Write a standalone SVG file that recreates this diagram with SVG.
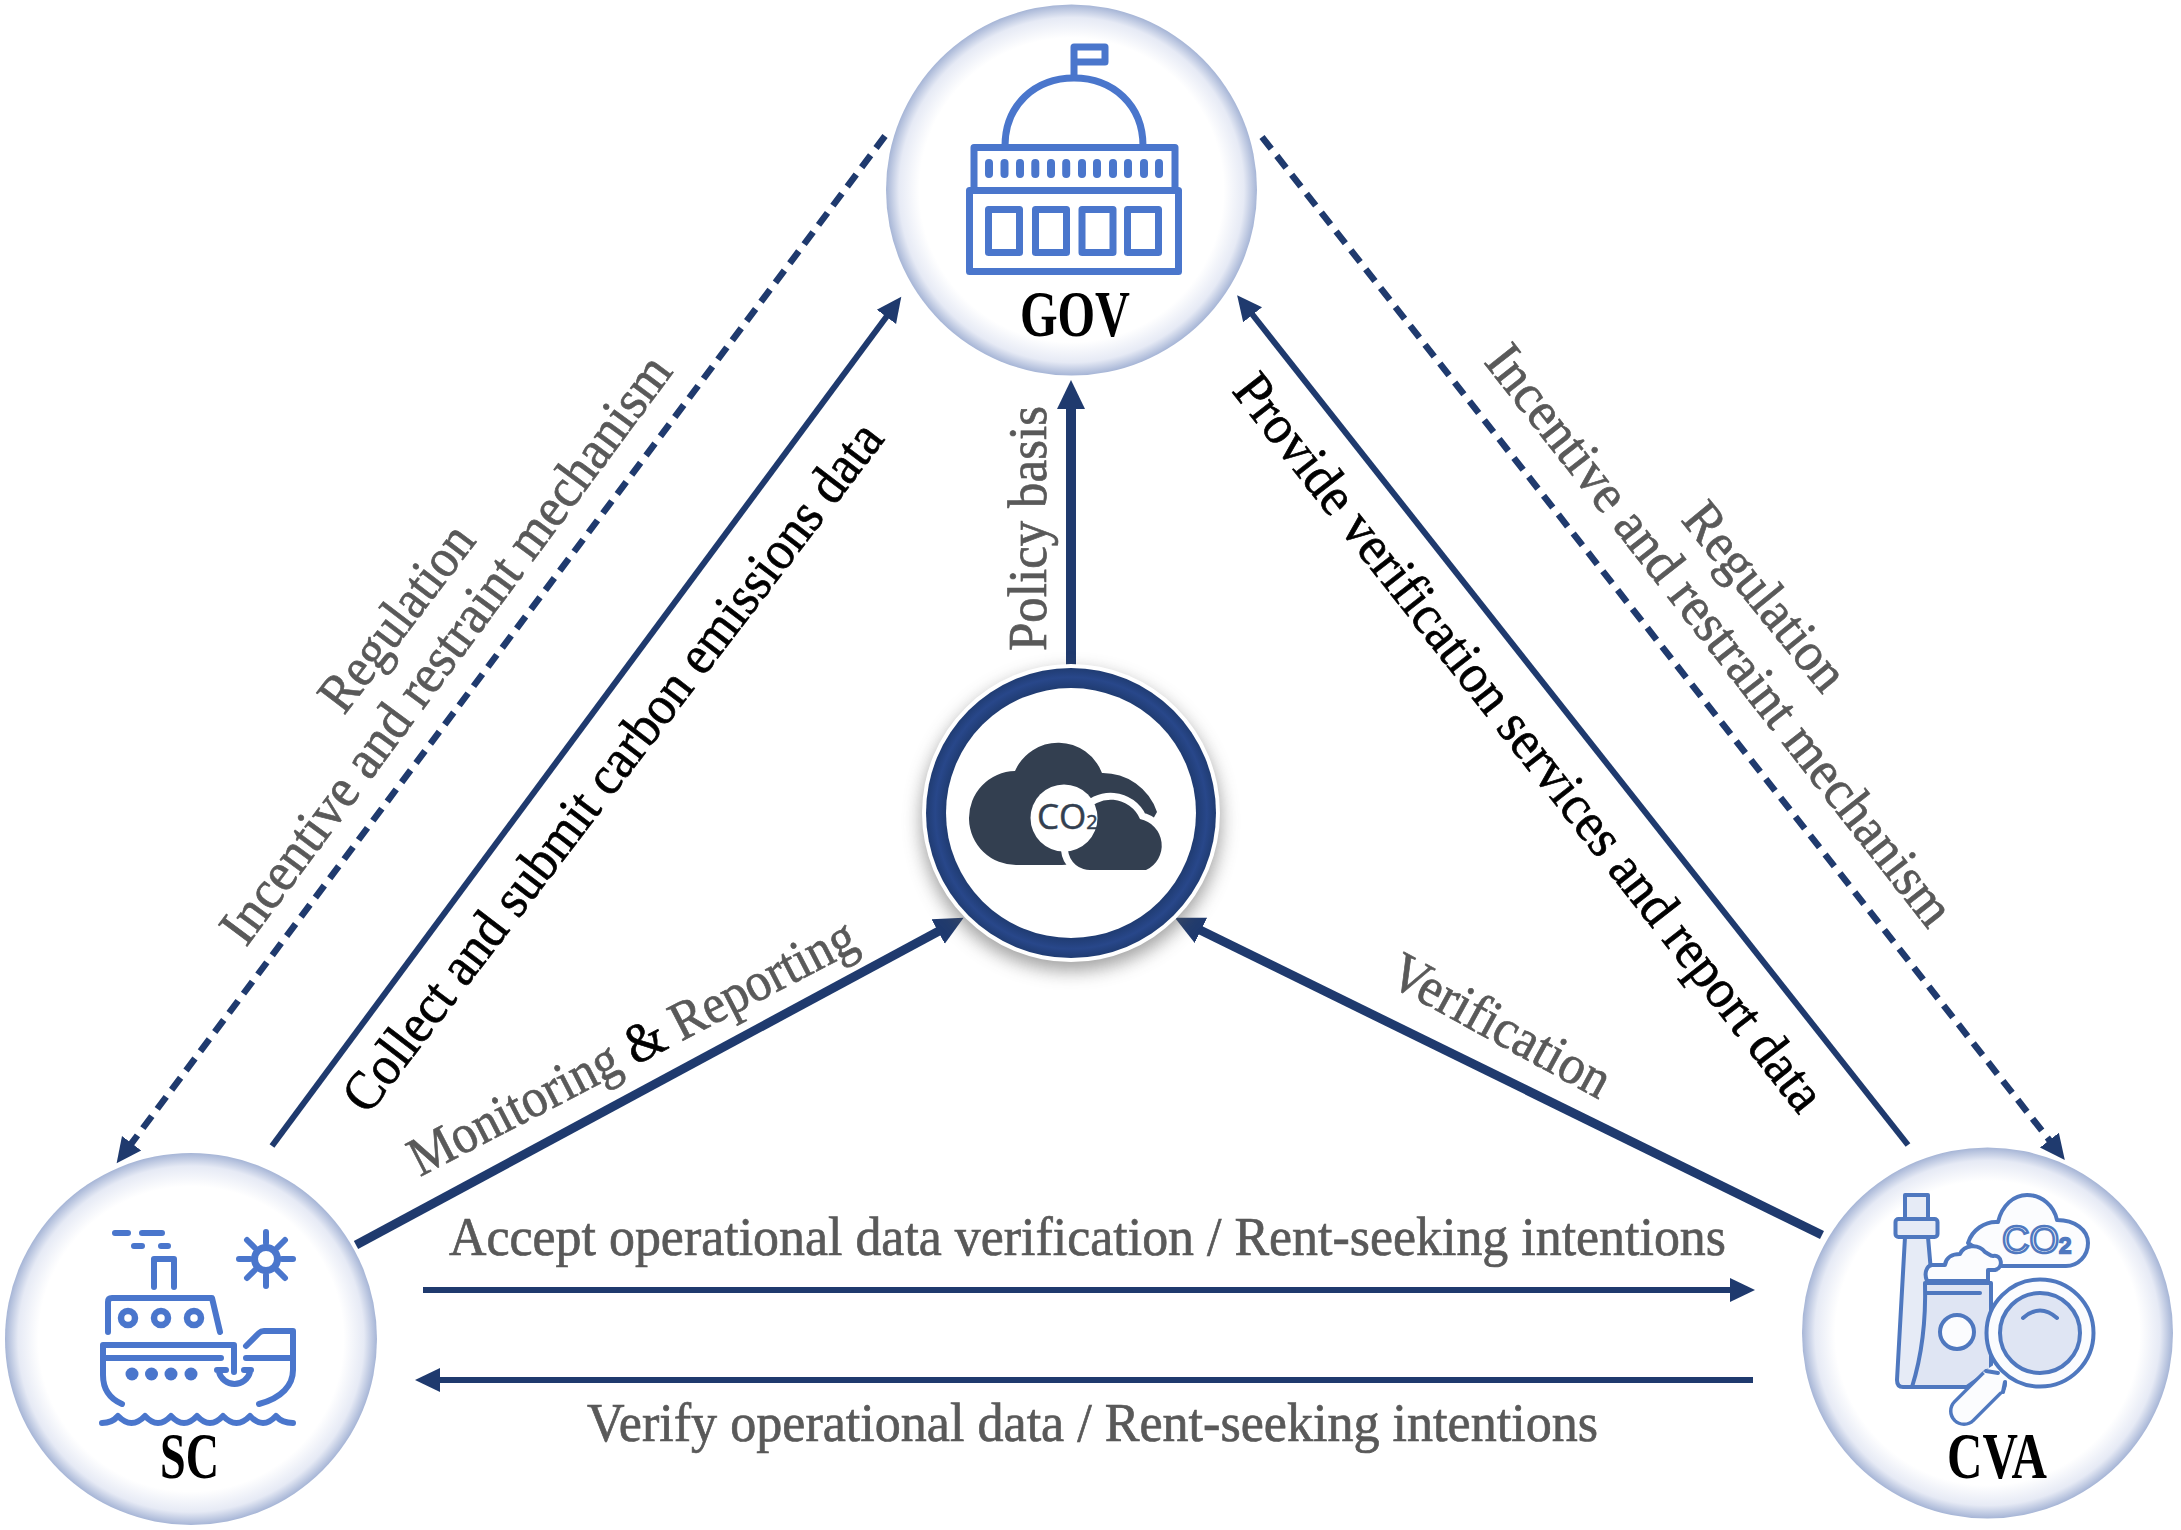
<svg xmlns="http://www.w3.org/2000/svg" width="2181" height="1530" viewBox="0 0 2181 1530">
<style>
text{font-family:"Liberation Serif","DejaVu Serif",serif}
.g{fill:#595959;font-size:55px;stroke:#595959;stroke-width:.7}
.k{fill:#000;font-size:55px;stroke:#000;stroke-width:.7}
.n{fill:#000;font-size:65px;font-weight:bold}
.c{fill:none;stroke:#1f3a6e;stroke-width:6}
.d{stroke-width:6.500;stroke-dasharray:15 9}
.t{stroke-width:10}
.i{fill:none;stroke:#4a76cc;stroke-width:7;stroke-linecap:round;stroke-linejoin:round}
.v{fill:#e6ebf6;stroke:#4f78bf;stroke-width:4;stroke-linejoin:round;stroke-linecap:round}
.w{fill:#fbfcfe}
.b{fill:#dfe5f3}
</style>
<defs>
<radialGradient id="bub"><stop offset="0.82" stop-color="#fff"/><stop offset="0.93" stop-color="#e6eaf5"/><stop offset="1" stop-color="#a6b5d6"/></radialGradient>
<radialGradient id="ring" gradientUnits="userSpaceOnUse" cx="1071" cy="813" r="146"><stop offset="0.85" stop-color="#1f3b70"/><stop offset="0.93" stop-color="#28478a"/><stop offset="1" stop-color="#1f3b70"/></radialGradient>
<filter id="soft" x="-30%" y="-30%" width="160%" height="160%"><feGaussianBlur stdDeviation="9"/></filter>
<marker id="h" markerUnits="userSpaceOnUse" markerWidth="26" markerHeight="26" refX="1" refY="13" orient="auto"><path d="M0,1 L25,13 L0,25 Z" fill="#1f3a6e"/></marker>
<marker id="H" markerUnits="userSpaceOnUse" markerWidth="30" markerHeight="30" refX="1" refY="15" orient="auto"><path d="M0,1 L29,15 L0,29 Z" fill="#1f3a6e"/></marker>
</defs>

<g id="connectors">
<path class="c d" d="M885,136 L131,1144" marker-end="url(#h)"/>
<path class="c" d="M272,1146 L887,316" marker-end="url(#h)"/>
<path class="c t" d="M1071,665 V408" marker-end="url(#H)"/>
<path class="c" style="stroke-width:9" d="M356,1245 L939,931" marker-end="url(#H)"/>
<path class="c" style="stroke-width:9" d="M1822,1235 L1200,930" marker-end="url(#H)"/>
<path class="c" d="M1908,1145 L1252,314" marker-end="url(#h)"/>
<path class="c d" d="M1262,137 L2050,1141" marker-end="url(#h)"/>
<path class="c" d="M423,1290 H1731" marker-end="url(#h)"/>
<path class="c" d="M1753,1380 H439" marker-end="url(#h)"/>
</g>

<g id="labels">
<text class="g" transform="translate(344,716) rotate(-52.7)" textLength="220" lengthAdjust="spacingAndGlyphs">Regulation</text>
<text class="g" transform="translate(246,948) rotate(-53.4)" textLength="718" lengthAdjust="spacingAndGlyphs">Incentive and restraint mechanism</text>
<text class="k" transform="translate(368,1116) rotate(-52.6)" textLength="852" lengthAdjust="spacingAndGlyphs">Collect and submit carbon emissions data</text>
<text class="g" transform="translate(420,1177) rotate(-27.4)" textLength="496" lengthAdjust="spacingAndGlyphs">Monitoring <tspan fill="#000" stroke="#000">&amp;</tspan> Reporting</text>
<text class="g" transform="translate(1046,651) rotate(-90)" textLength="245" lengthAdjust="spacingAndGlyphs">Policy basis</text>
<text class="k" transform="translate(1231,391) rotate(51.9)" textLength="921" lengthAdjust="spacingAndGlyphs">Provide verification services and report data</text>
<text class="g" transform="translate(1483,362) rotate(51.9)" textLength="722" lengthAdjust="spacingAndGlyphs">Incentive and restraint mechanism</text>
<text class="g" transform="translate(1680,520) rotate(50.8)" textLength="226" lengthAdjust="spacingAndGlyphs">Regulation</text>
<text class="g" transform="translate(1386,983) rotate(28.7)" textLength="243" lengthAdjust="spacingAndGlyphs">Verification</text>
<text class="g" x="449" y="1255" textLength="1277" lengthAdjust="spacingAndGlyphs">Accept operational data verification / Rent-seeking intentions</text>
<text class="g" x="587" y="1441" textLength="1011" lengthAdjust="spacingAndGlyphs">Verify operational data / Rent-seeking intentions</text>
</g>

<g id="GOV">
<circle cx="1071.5" cy="190" r="185.5" fill="url(#bub)"/>
<path class="i" d="M1074,76 V47 H1105 V62 H1074"/>
<path class="i" d="M1005,146 C1005,105 1035,78 1074,78 C1113,78 1143,105 1143,146"/>
<path class="i" d="M974,188 V147.500 H1175 V188"/>
<rect class="i" x="969.500" y="190.500" width="209" height="81"/>
<path class="i" style="stroke-width:8" d="M989,163 V174 M1004.500,163 V174 M1020,163 V174 M1035.300,163 V174 M1051,163 V174 M1066.200,163 V174 M1082,163 V174 M1097,163 V174 M1113,163 V174 M1128,163 V174 M1144,163 V174 M1159,163 V174"/>
<rect class="i" x="988.500" y="209.500" width="31" height="43"/>
<rect class="i" x="1035.500" y="209.500" width="31" height="43"/>
<rect class="i" x="1082" y="209.500" width="31" height="43"/>
<rect class="i" x="1127.500" y="209.500" width="31" height="43"/>
<text class="n" x="1020" y="336" textLength="110" lengthAdjust="spacingAndGlyphs">GOV</text>
</g>

<g id="SC">
<circle cx="191" cy="1339" r="186" fill="url(#bub)"/>
<path class="i" style="stroke-width:6" d="M115,1233 H128 M142,1233 H162 M134,1246 H142 M161,1246 H168 M154,1287 V1259 H174 V1287"/>
<circle class="i" cx="266" cy="1259" r="11.500"/>
<path class="i" style="stroke-width:6" d="M266,1232 V1243 M266,1275 V1286 M239,1259 H250 M282,1259 H293 M247,1240 L255,1248 M277,1270 L285,1278 M285,1240 L277,1248 M255,1270 L247,1278"/>
<path class="i" style="stroke-width:6" d="M108,1332 V1302 Q108,1298 112,1298 H212 L220,1332"/>
<circle class="i" style="stroke-width:6.500" cx="128" cy="1318" r="7"/>
<circle class="i" style="stroke-width:6.500" cx="161" cy="1318" r="7"/>
<circle class="i" style="stroke-width:6.500" cx="194" cy="1318" r="7"/>
<path class="i" style="stroke-width:6" d="M122,1404 C108,1398 103,1388 103,1375 V1345 H234 V1372 M103,1358 H221"/>
<g fill="#4a76cc"><circle cx="132" cy="1374" r="6.500"/><circle cx="151.500" cy="1374" r="6.500"/><circle cx="171" cy="1374" r="6.500"/><circle cx="191" cy="1374" r="6.500"/></g>
<path class="i" style="stroke-width:6" d="M217,1370 H226 M244,1370 H251 M219,1372 A16,16 0 0 0 250,1372"/>
<path class="i" style="stroke-width:6" d="M246,1346 L259,1333 Q261,1331 264,1331 H293 V1370 C293,1385 282,1398 259,1404 M246,1358 H293"/>
<path class="i" style="stroke-width:6" d="M102,1423 Q112,1423 118,1416 Q131.500,1430 145,1416 Q158,1430 171,1416 Q184,1430 197,1416 Q210,1430 223,1416 Q236.500,1430 250,1416 Q263,1430 276,1416 Q282,1423 293,1423"/>
<text class="n" x="160" y="1478" textLength="59" lengthAdjust="spacingAndGlyphs">SC</text>
</g>

<g id="CVA">
<circle cx="1987.500" cy="1333" r="185.500" fill="url(#bub)"/>
<path class="v" d="M1905,1237 L1897,1380 Q1897,1387 1903,1387 H1967 L1990,1340 V1283 H1932 L1928,1237 Z"/>
<path class="v" d="M1905,1219 V1195 H1928 V1219"/>
<rect class="v" x="1895.500" y="1219" width="42" height="18" rx="3"/>
<path class="v w" d="M1968,1243 C1972,1230 1985,1221 1998,1222 C2002,1205 2014,1195 2027,1195 C2042,1195 2054,1206 2057,1220 C2075,1220 2088,1230 2088,1243 C2088,1256 2078,1266 2066,1266 H2002 Z"/>
<path class="v b" d="M1925,1283 H1991 V1370 L1967,1387 H1912 C1922,1355 1926,1320 1925,1283 Z"/>
<path class="v" style="fill:none" d="M1927,1293 H1980"/>
<circle class="v w" cx="1957" cy="1332" r="17"/>
<path class="v w" d="M1927,1281 C1924,1274 1926,1266 1932,1265 H1945 C1946,1257 1953,1254 1960,1254 C1964,1245 1978,1243 1985,1252 C1990,1255 1991,1256 1993,1256 C2002,1254 2004,1268 1995,1270 H1988 V1281 Z"/>
<text x="2002" y="1253" font-size="38" style='font-family:"Liberation Sans",sans-serif;fill:#f4f6fb;stroke:#4f78bf;stroke-width:2.500'>CO<tspan font-size="22">2</tspan></text>
<path d="M1992,1383 L1964,1411" fill="none" stroke="#4f78bf" stroke-width="30" stroke-linecap="round"/>
<path d="M1992,1383 L1964,1411" fill="none" stroke="#fbfcfe" stroke-width="23" stroke-linecap="round"/>
<path d="M1983,1372 L1998,1362 L2010,1374 L2001,1392 Z" fill="#fbfcfe"/>
<path class="v" style="fill:none" d="M1986,1371 L1998,1373 M2003,1392 L2005,1382"/>
<circle class="v w" cx="2040" cy="1333" r="53.500"/>
<circle class="v b" cx="2040" cy="1333" r="40"/>
<path class="v" style="fill:none" d="M2023,1318 Q2040,1303 2057,1318"/>
<text class="n" x="1947" y="1478" textLength="100" lengthAdjust="spacingAndGlyphs">CVA</text>
</g>

<g id="CO2">
<circle cx="1071" cy="821" r="150" fill="#555" opacity="0.55" filter="url(#soft)"/>
<circle cx="1071" cy="813" r="149" fill="#fff"/>
<circle cx="1071" cy="813" r="145" fill="url(#ring)"/>
<circle cx="1071" cy="813" r="125" fill="#fff"/>
<path fill="#333f50" d="M1062,865 H1017 A47,47 0 0 1 1015,771 A47,47 0 0 1 1102,773 A57,57 0 0 1 1157,812 L1130,860 Z"/>
<path fill="#333f50" stroke="#fff" stroke-width="14" paint-order="stroke" d="M1092,870 H1146 A27,27 0 0 0 1140,819 A32,32 0 0 0 1084,814 L1068,850 A22,22 0 0 0 1092,870 Z"/>
<circle cx="1064" cy="818" r="33.500" fill="#fff"/>
<text x="1037" y="829" font-size="35" style='font-family:"Open Sans",sans-serif;fill:#333f50;stroke:#333f50;stroke-width:.5'>CO<tspan font-size="20">2</tspan></text>
</g>
</svg>
